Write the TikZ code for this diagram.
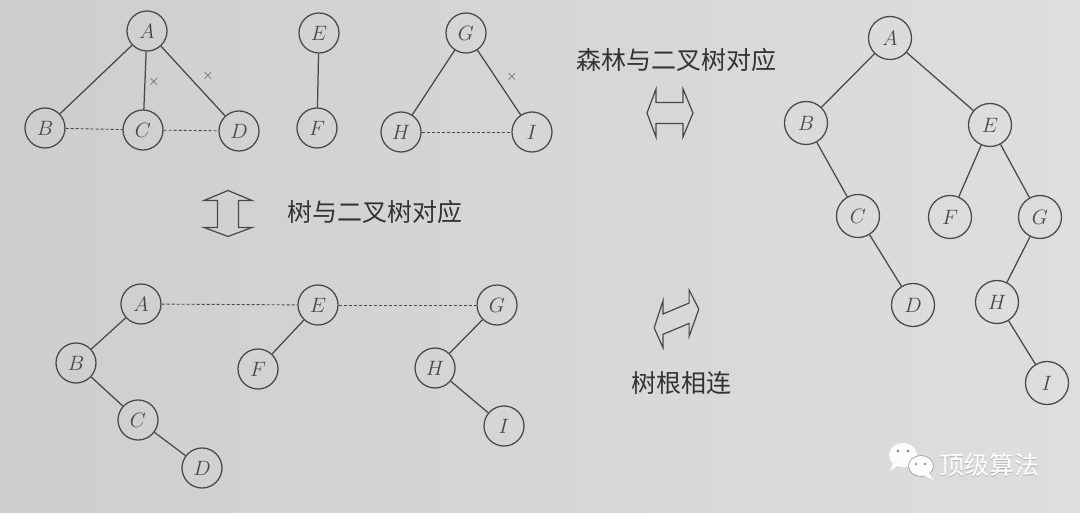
\documentclass[tikz,border=0pt]{standalone}
\usepackage{fontspec}
\newfontfamily\cjk{Noto Sans CJK SC}
\definecolor{bgl}{RGB}{206,206,208}
\definecolor{bgr}{RGB}{222,222,224}
\definecolor{ink}{RGB}{72,72,74}
\definecolor{txt}{RGB}{50,50,53}
\begin{document}
\begin{tikzpicture}[x=1pt,y=-1pt,
  nd/.style={circle,draw=ink,line width=1.25pt,minimum size=40pt,inner sep=0pt,
    text=ink,font=\fontsize{20}{20}\selectfont},
  ndb/.style={nd,minimum size=43pt},
  ed/.style={draw=ink,line width=1.25pt},
  dl/.style={draw=ink,line width=0.9pt,dash pattern=on 3pt off 2pt},
  lbl/.style={font=\cjk\fontsize{25}{25}\selectfont,text=txt,inner sep=0pt},
  crs/.style={text=ink,inner sep=0pt,font=\fontsize{14}{14}\selectfont},
  arrowline/.style={draw=ink,line width=1.2pt,line join=miter},
  dbl/.pic={\path[arrowline] (-23,0) -- (-14,-24) -- (-14,-10.5) -- (13,-10.5) -- (13,-24)
     -- (23,0) -- (13,24) -- (13,10.5) -- (-14,10.5) -- (-14,24) -- cycle;}
]
\useasboundingbox (0,0) rectangle (1080,513);
\shade[left color=bgl,right color=bgr] (0,0) rectangle (1080,513);

% ---- forest (top left)
\node[nd] (a1) at (147,31) {$A$};
\node[nd] (b1) at (45,128) {$B$};
\node[nd] (c1) at (143,130) {$C$};
\node[nd] (d1) at (239,131) {$D$};
\node[nd] (e1) at (319,33) {$E$};
\node[nd] (f1) at (317,128) {$F$};
\node[nd] (g1) at (466,33) {$G$};
\node[nd] (h1) at (401,132) {$H$};
\node[nd] (i1) at (532,132) {$I$};
\draw[ed] (a1) -- (b1);
\draw[ed] (a1) -- (c1);
\draw[ed] (a1) -- (d1);
\draw[ed] (e1) -- (f1);
\draw[ed] (g1) -- (h1);
\draw[ed] (g1) -- (i1);
\draw[dl] (b1) -- (c1);
\draw[dl] (c1) -- (d1);
\draw[dl] (h1) -- (i1);
\node[crs] (x1) at (154,82) {$\times$};
\node[crs] (x2) at (208,76) {$\times$};
\node[crs] (x3) at (512,77) {$\times$};

% ---- arrow + label
\pic[rotate=90] (ud) at (228,213.5) {dbl};
\node[lbl] (t1) at (374.5,212) {树与二叉树对应};

% ---- binary trees (bottom left)
\node[nd] (a2) at (141,304) {$A$};
\node[nd] (b2) at (76,363) {$B$};
\node[nd] (c2) at (138,420) {$C$};
\node[nd] (d2) at (202,468) {$D$};
\node[nd] (e2) at (318,305) {$E$};
\node[nd] (f2) at (258,369) {$F$};
\node[nd] (g2) at (497,305) {$G$};
\node[nd] (h2) at (435,368) {$H$};
\node[nd] (i2) at (504,426) {$I$};
\draw[ed] (a2) -- (b2);
\draw[ed] (b2) -- (c2);
\draw[ed] (c2) -- (d2);
\draw[ed] (e2) -- (f2);
\draw[ed] (g2) -- (h2);
\draw[ed] (h2) -- (i2);
\draw[dl] (a2) -- (e2);
\draw[dl] (e2) -- (g2);

% ---- middle labels and arrows
\node[lbl] (t2) at (676.5,60) {森林与二叉树对应};
\pic (lr) at (670,113) {dbl};
\pic[yslant=0.42,scale=0.97] (dg) at (676.5,318.5) {dbl};
\node[lbl] (t3) at (681.5,383) {树根相连};

% ---- final binary tree (right)
\node[ndb] (a3) at (890,38) {$A$};
\node[ndb] (b3) at (806,123) {$B$};
\node[ndb] (e3) at (990,125) {$E$};
\node[ndb] (c3) at (858,216) {$C$};
\node[ndb] (f3) at (950,217) {$F$};
\node[ndb] (g3) at (1040,217) {$G$};
\node[ndb] (d3) at (913,305) {$D$};
\node[ndb] (h3) at (997,302) {$H$};
\node[ndb] (i3) at (1047,383) {$I$};
\draw[ed] (a3) -- (b3);
\draw[ed] (a3) -- (e3);
\draw[ed] (b3) -- (c3);
\draw[ed] (c3) -- (d3);
\draw[ed] (e3) -- (f3);
\draw[ed] (e3) -- (g3);
\draw[ed] (g3) -- (h3);
\draw[ed] (h3) -- (i3);

% ---- watermark
\fill[white,opacity=0.92] (903,455) ellipse [x radius=14, y radius=12];
\fill[white,opacity=0.92] (893,463) -- (890,471) -- (899,465) -- cycle;
\draw[gray!70,line width=0.8pt,fill=white] (921,466) ellipse [x radius=12.5, y radius=10.5];
\fill[white] (929,473) -- (933,480) -- (924,475) -- cycle;
\fill[gray!80] (898,451) circle (1.6) (908,451) circle (1.6);
\fill[gray!80] (916,464) circle (1.4) (925,464) circle (1.4);
\node[lbl,text=gray!60] (wm0) at (989.8,465.8) {顶级算法};
\node[lbl,text=white] (wm) at (989,465) {顶级算法};
\end{tikzpicture}
\end{document}
